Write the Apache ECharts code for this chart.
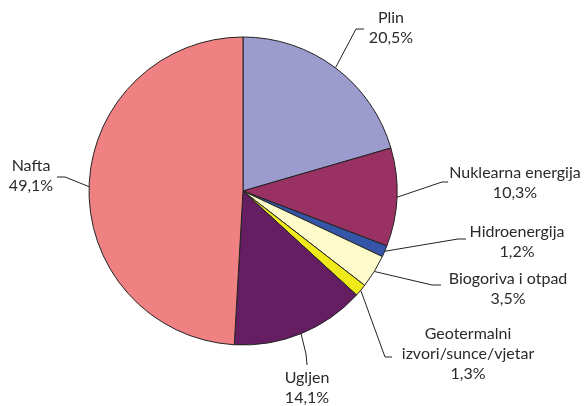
<!DOCTYPE html>
<html>
<head>
<meta charset="utf-8">
<script src="https://cdn.jsdelivr.net/npm/echarts@6/dist/echarts.min.js"></script>
<style>html,body{margin:0;padding:0;background:#fff;}#c{width:586px;height:406px;}</style>
</head>
<body>
<div id="c"></div>
<script>
var categories = ['Plin', 'Nuklearna energija', 'Hidroenergija', 'Biogoriva i otpad', 'Geotermalni\nizvori/sunce/vjetar', 'Ugljen', 'Nafta'];
var values = [20.5, 10.3, 1.2, 3.5, 1.3, 14.1, 49.1];
var colors = ['#9b9bcd', '#993263', '#3556a8', '#fefbcb', '#f1ea1b', '#661e63', '#f08182'];

// label layout (positions only)
var labelPos = [
  {x: 391, y: 28, p: [[356, 29], [364, 29]]},
  {x: 515, y: 183, p: [[442, 182], [448, 182]]},
  {x: 517, y: 242, p: [[458, 239], [466, 239]]},
  {x: 508, y: 289, p: [[432, 285], [441, 285]]},
  {x: 468, y: 354, p: [[385, 357], [392, 357]]},
  {x: 307, y: 388, p: [[306, 354], [307, 365]]},
  {x: 31, y: 176, p: [[65, 177], [57, 177]]}
];

var data = categories.map(function (c, i) {
  return {name: c, value: values[i], itemStyle: {color: colors[i]}};
});

var chart = echarts.init(document.getElementById('c'));
chart.setOption({
  animation: false,
  series: [{
    type: 'pie',
    center: [243, 191],
    radius: 154,
    startAngle: 90,
    clockwise: true,
    avoidLabelOverlap: false,
    data: data,
    itemStyle: {borderColor: '#222', borderWidth: 1},
    label: {
      show: true,
      color: '#2a2a2a',
      fontFamily: 'Lato',
      fontSize: 16,
      lineHeight: 20,
      align: 'center',
      formatter: function (p) {
        return p.name + '\n' + values[p.dataIndex].toFixed(1).replace('.', ',') + '%';
      }
    },
    labelLine: {show: true, lineStyle: {color: '#222', width: 1}},
    labelLayout: function (params) {
      var lp = labelPos[params.dataIndex];
      var start = params.labelLinePoints ? params.labelLinePoints[0] : lp.p[0];
      return {
        x: lp.x,
        y: lp.y,
        align: 'center',
        verticalAlign: 'middle',
        labelLinePoints: [start, lp.p[0], lp.p[1]]
      };
    }
  }]
});
</script>
</body>
</html>
